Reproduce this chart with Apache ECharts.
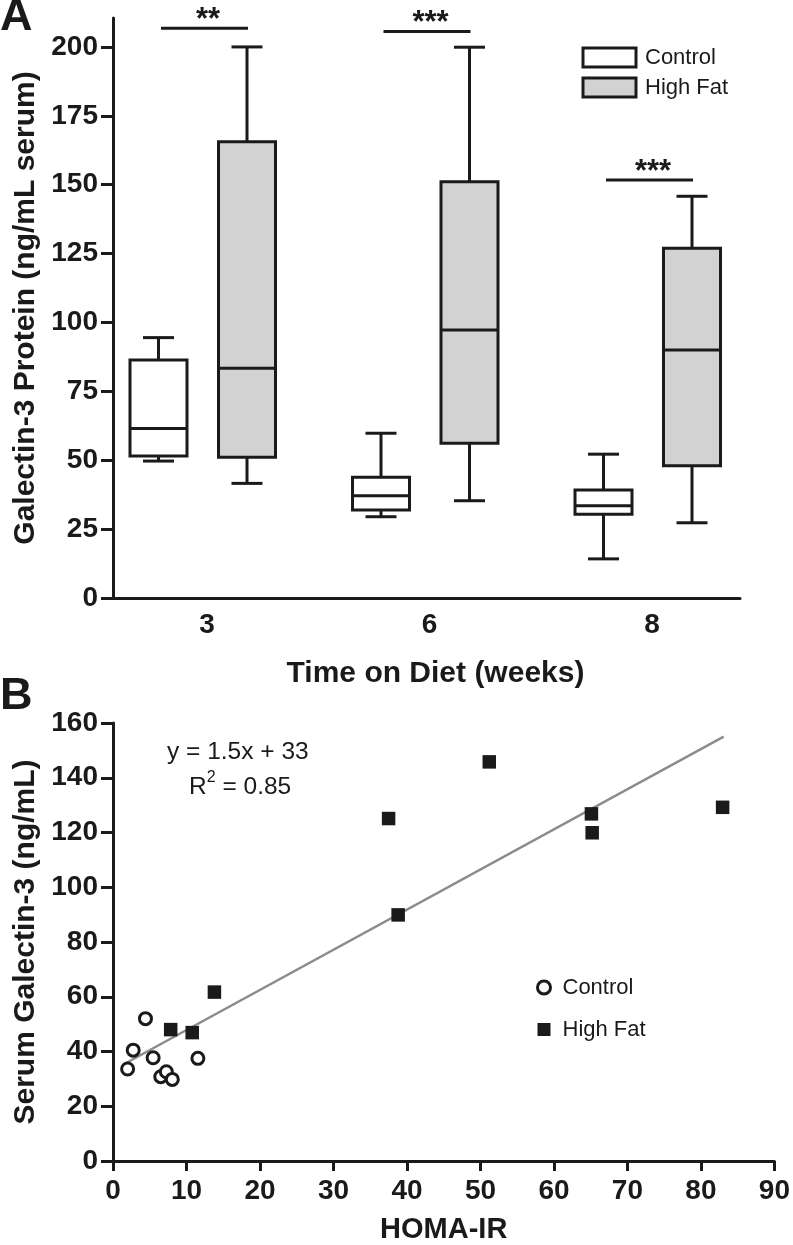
<!DOCTYPE html>
<html>
<head>
<meta charset="utf-8">
<script src="https://cdn.jsdelivr.net/npm/echarts@6/dist/echarts.min.js"></script>
<style>
html,body{margin:0;padding:0;background:#ffffff;}
#chart{width:793px;height:1245px;}
</style>
</head>
<body>
<div id="chart"></div>
<script>
// ---------------- DATA ----------------
// Panel A: time on diet (weeks)
const weeks = ['3', '6', '8'];
// five-number summaries per week: [min, Q1, median, Q3, max]
const controlBoxes = [
  [49.7, 51.5, 61.5, 86.4, 94.5],
  [29.5, 31.9, 37.1, 43.8, 59.8],
  [14.2, 30.4, 33.5, 39.2, 52.2]
];
const highFatBoxes = [
  [41.6, 51.1, 83.4, 165.6, 200.0],
  [35.3, 56.2, 97.3, 151.1, 199.9],
  [27.3, 48.0, 90.0, 126.9, 145.8]
];
const sigLevels = [206.8, 205.6, 151.7];
const sigLabels = ['**', '***', '***'];
const yTicksA = [0, 25, 50, 75, 100, 125, 150, 175, 200];

// Panel B: HOMA-IR vs serum galectin-3
const controlHoma = [1.99, 2.75, 4.42, 5.46, 6.5, 7.26, 8.07, 11.55];
const controlGal  = [33.6, 40.5, 52.0, 37.7, 30.8, 32.6, 29.8, 37.5];
const highFatHoma = [7.85, 10.78, 13.8, 37.5, 38.8, 51.2, 65.1, 65.2, 82.95];
const highFatGal  = [48.0, 46.9, 61.7, 125.1, 89.9, 145.8, 126.8, 119.9, 129.2];
const fitLineX = [1.85, 83.1];
const fitLineY = [35.9, 155.0];
const equationText = 'y = 1.5x + 33';
const r2Value = '0.85';

// ---------------- STYLE ----------------
const INK = '#1a1a1a';
const FONT = "'Liberation Sans', Arial, Helvetica, sans-serif";
const GREY_FILL = '#d2d2d2';

function lineStyle() { return { stroke: INK, lineWidth: 3 }; }

function makeBoxRender(offset, fill) {
  return function (params, api) {
    const cx = api.coord([api.value(0), 0])[0] + offset;
    const yMin = api.coord([0, api.value(1)])[1];
    const yQ1 = api.coord([0, api.value(2)])[1];
    const yMed = api.coord([0, api.value(3)])[1];
    const yQ3 = api.coord([0, api.value(4)])[1];
    const yMax = api.coord([0, api.value(5)])[1];
    const hw = 28.5, cw = 15.5;
    return {
      type: 'group',
      children: [
        { type: 'line', shape: { x1: cx, y1: yMax, x2: cx, y2: yQ3 }, style: lineStyle() },
        { type: 'line', shape: { x1: cx - cw, y1: yMax, x2: cx + cw, y2: yMax }, style: lineStyle() },
        { type: 'line', shape: { x1: cx, y1: yQ1, x2: cx, y2: yMin }, style: lineStyle() },
        { type: 'line', shape: { x1: cx - cw, y1: yMin, x2: cx + cw, y2: yMin }, style: lineStyle() },
        { type: 'rect', shape: { x: cx - hw, y: yQ3, width: 2 * hw, height: yQ1 - yQ3 },
          style: { fill: fill, stroke: INK, lineWidth: 3 } },
        { type: 'line', shape: { x1: cx - hw, y1: yMed, x2: cx + hw, y2: yMed }, style: lineStyle() }
      ]
    };
  };
}

function sigRender(params, api) {
  const cx = api.coord([api.value(0), 0])[0];
  const y = api.coord([0, api.value(1)])[1];
  return {
    type: 'group',
    children: [
      { type: 'line', shape: { x1: cx - 46, y1: y, x2: cx + 41, y2: y }, style: lineStyle() },
      { type: 'text', style: { x: cx + 1, y: y - 8, text: sigLabels[params.dataIndex],
          fontSize: 31, fontWeight: 'bold', fontFamily: FONT, fill: INK,
          align: 'center', verticalAlign: 'middle' } }
    ]
  };
}

const tickLabel = { fontSize: 28, fontWeight: 'bold', fontFamily: FONT, color: INK };
const axisTitle = { fontSize: 30, fontWeight: 'bold', fontFamily: FONT, color: INK };
const axisLineStyle = { color: INK, width: 3 };

const option = {
  animation: false,
  backgroundColor: '#ffffff',
  textStyle: { fontFamily: FONT },
  grid: [
    { left: 113, right: 53, top: 18, height: 580 },
    { left: 113, right: 15, top: 723, height: 440 }
  ],
  xAxis: [
    {
      gridIndex: 0, type: 'value', min: -0.4225, max: 2.3955,
      splitLine: { show: false },
      axisLine: { onZero: false, lineStyle: axisLineStyle },
      axisTick: { show: false },
      axisLabel: Object.assign({ customValues: [0, 1, 2], margin: 13,
        formatter: function (v) { return weeks[Math.round(v)]; } }, tickLabel),
      name: 'Time on Diet (weeks)', nameLocation: 'middle', nameGap: 61,
      nameTextStyle: Object.assign({ padding: [0, 0, 0, 18] }, axisTitle)
    },
    {
      gridIndex: 1, type: 'value', min: 0, max: 90, interval: 10,
      splitLine: { show: false },
      axisLine: { onZero: false, lineStyle: axisLineStyle },
      axisTick: { length: 10, lineStyle: { color: INK, width: 3 } },
      axisLabel: Object.assign({ margin: 16 }, tickLabel),
      name: 'HOMA-IR', nameLocation: 'middle', nameGap: 54,
      nameTextStyle: Object.assign({}, axisTitle, { fontSize: 29 })
    }
  ],
  yAxis: [
    {
      gridIndex: 0, type: 'value', min: 0, max: 210.5,
      splitLine: { show: false },
      axisLine: { onZero: false, lineStyle: axisLineStyle },
      axisTick: { length: 12, customValues: yTicksA, lineStyle: { color: INK, width: 3 } },
      axisLabel: Object.assign({ customValues: yTicksA, margin: 15 }, tickLabel),
      name: 'Galectin-3 Protein (ng/mL serum)', nameLocation: 'middle', nameGap: 71,
      nameTextStyle: axisTitle
    },
    {
      gridIndex: 1, type: 'value', min: 0, max: 160, interval: 20,
      splitLine: { show: false },
      axisLine: { onZero: false, lineStyle: axisLineStyle },
      axisTick: { length: 12, lineStyle: { color: INK, width: 3 } },
      axisLabel: Object.assign({ margin: 15 }, tickLabel),
      name: 'Serum Galectin-3 (ng/mL)', nameLocation: 'middle', nameGap: 71,
      nameTextStyle: axisTitle
    }
  ],
  legend: [
    {
      orient: 'vertical', left: 576.5, top: 41.5, itemGap: 8,
      itemWidth: 53, itemHeight: 19,
      textStyle: { fontSize: 22, fontFamily: FONT, color: INK, padding: [0, 0, 0, 4] },
      selectedMode: false,
      data: [
        { name: 'Control', icon: 'rect', itemStyle: { color: '#ffffff', borderColor: INK, borderWidth: 3 } },
        { name: 'High Fat', icon: 'rect', itemStyle: { color: GREY_FILL, borderColor: INK, borderWidth: 3 } }
      ]
    },
    {
      orient: 'vertical', left: 531, top: 971.5, itemGap: 20,
      itemWidth: 13, itemHeight: 13,
      textStyle: { fontSize: 22, fontFamily: FONT, color: INK, padding: [0, 0, 0, 7] },
      selectedMode: false,
      data: [
        { name: 'Control', icon: 'circle', itemStyle: { color: '#ffffff', borderColor: INK, borderWidth: 3 } },
        { name: 'High Fat', icon: 'rect', itemStyle: { color: INK, borderWidth: 0 } }
      ]
    }
  ],
  graphic: [
    { type: 'text', x: 0, y: 17.4, style: { text: 'A', fontSize: 45, fontWeight: 'bold', fontFamily: FONT, fill: INK, verticalAlign: 'middle' } },
    { type: 'text', x: 0, y: 696.4, style: { text: 'B', fontSize: 45, fontWeight: 'bold', fontFamily: FONT, fill: INK, verticalAlign: 'middle' } },
    { type: 'text', x: 167, y: 752, style: { text: equationText, fontSize: 24.5, fontFamily: FONT, fill: INK, verticalAlign: 'middle' } },
    { type: 'text', x: 189, y: 787, style: {
        text: '{r|R}{s|2}{r| = ' + r2Value + '}',
        verticalAlign: 'middle', fill: INK,
        rich: {
          r: { fontSize: 24.5, fontFamily: FONT, fill: INK, color: INK, lineHeight: 34 },
          s: { fontSize: 16, fontFamily: FONT, fill: INK, color: INK, lineHeight: 16, verticalAlign: 'top' }
        } } }
  ],
  series: [
    {
      name: 'Control', type: 'custom', xAxisIndex: 0, yAxisIndex: 0,
      renderItem: makeBoxRender(-48.5, '#ffffff'),
      itemStyle: { color: '#ffffff', borderColor: INK },
      encode: { x: 0, y: [1, 2, 3, 4, 5] },
      data: controlBoxes.map(function (b, i) { return [i].concat(b); })
    },
    {
      name: 'High Fat', type: 'custom', xAxisIndex: 0, yAxisIndex: 0,
      renderItem: makeBoxRender(40, GREY_FILL),
      itemStyle: { color: GREY_FILL, borderColor: INK },
      encode: { x: 0, y: [1, 2, 3, 4, 5] },
      data: highFatBoxes.map(function (b, i) { return [i].concat(b); })
    },
    {
      name: 'significance', type: 'custom', xAxisIndex: 0, yAxisIndex: 0,
      renderItem: sigRender,
      encode: { x: 0, y: 1 },
      data: sigLevels.map(function (v, i) { return [i, v]; })
    },
    {
      name: 'fit', type: 'line', xAxisIndex: 1, yAxisIndex: 1,
      symbol: 'none', lineStyle: { color: '#8c8c8c', width: 2.5 },
      data: fitLineX.map(function (x, i) { return [x, fitLineY[i]]; }),
      z: 1
    },
    {
      name: 'Control', type: 'scatter', xAxisIndex: 1, yAxisIndex: 1,
      symbol: 'circle', symbolSize: 12,
      itemStyle: { color: '#ffffff', borderColor: INK, borderWidth: 3, opacity: 1 },
      data: controlHoma.map(function (x, i) { return [x, controlGal[i]]; }),
      z: 3
    },
    {
      name: 'High Fat', type: 'scatter', xAxisIndex: 1, yAxisIndex: 1,
      symbol: 'rect', symbolSize: 13.5,
      itemStyle: { color: INK, opacity: 1 },
      data: highFatHoma.map(function (x, i) { return [x, highFatGal[i]]; }),
      z: 3
    }
  ]
};

const chart = echarts.init(document.getElementById('chart'), null, { renderer: 'canvas' });
chart.setOption(option);
</script>
</body>
</html>
